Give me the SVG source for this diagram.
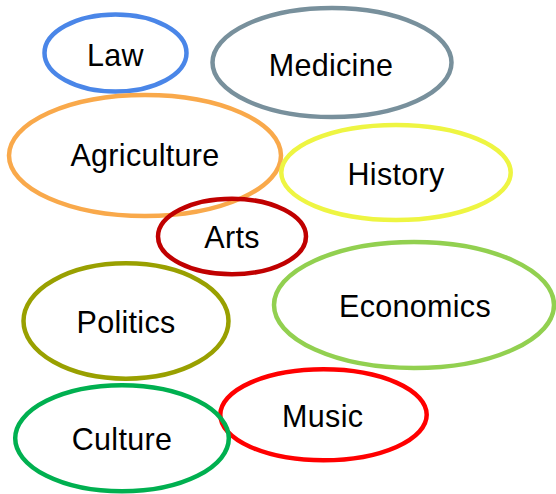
<svg xmlns="http://www.w3.org/2000/svg" width="556" height="494" viewBox="0 0 556 494">
<style>
ellipse{fill:none;stroke-width:4.5}
text{font-family:"Liberation Sans",Arial,sans-serif;font-size:30.5px;letter-spacing:0.3px;fill:#000;text-anchor:middle}
</style>
<rect width="556" height="494" fill="#fff"/>
<g id="law"><ellipse cx="115.5" cy="53" rx="71" ry="38.5" stroke="#4a86e8"/><text x="115.5" y="65.7">Law</text></g>
<g id="medicine"><ellipse cx="332" cy="62.5" rx="119.5" ry="54.5" stroke="#78909c"/><text x="331" y="75.7">Medicine</text></g>
<g id="agriculture"><ellipse cx="145" cy="155.5" rx="136" ry="60.5" stroke="#f9a94b"/><text x="145" y="165.7">Agriculture</text></g>
<g id="history"><ellipse cx="396" cy="172.5" rx="114.7" ry="47.5" stroke="#eef542"/><text x="396" y="185">History</text></g>
<g id="arts"><ellipse cx="232" cy="236.5" rx="74" ry="37.7" stroke="#c00000"/><text x="232" y="248">Arts</text></g>
<g id="politics"><ellipse cx="126" cy="321" rx="102.5" ry="57.7" stroke="#99a000"/><text x="126" y="333">Politics</text></g>
<g id="economics"><ellipse cx="414" cy="305" rx="140" ry="63" stroke="#92d050"/><text x="415" y="316.7">Economics</text></g>
<g id="music"><ellipse cx="323.5" cy="414.8" rx="103.2" ry="45.5" stroke="#ff0000"/><text x="322.7" y="426.7">Music</text></g>
<g id="culture"><ellipse cx="122" cy="438.3" rx="106.8" ry="53" stroke="#00b050"/><text x="122" y="449.7">Culture</text></g>
<g id="connectors"/>
</svg>
